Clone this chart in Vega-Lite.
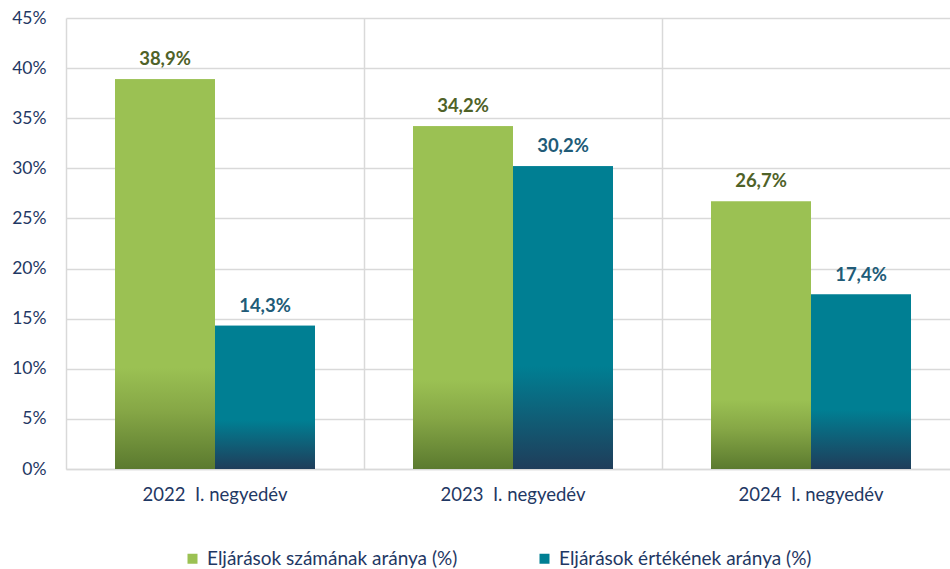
{
  "$schema": "https://vega.github.io/schema/vega-lite/v6.json",
  "width": 884,
  "height": 451,
  "autosize": {"type": "none"},
  "padding": {"left": 66, "top": 18, "right": 0, "bottom": 100},
  "background": "white",
  "config": {
    "locale": {"number": {"decimal": ",", "thousands": " ", "grouping": [3], "currency": ["", " Ft"]}},
    "font": "Lato",
    "view": {"stroke": null}
  },
  "data": {
    "values": [
      {"q": "2022 \u00a0I. negyedév", "s": "Eljárások számának aránya (%)", "v": 0.389},
      {"q": "2022 \u00a0I. negyedév", "s": "Eljárások értékének aránya (%)", "v": 0.143},
      {"q": "2023 \u00a0I. negyedév", "s": "Eljárások számának aránya (%)", "v": 0.342},
      {"q": "2023 \u00a0I. negyedév", "s": "Eljárások értékének aránya (%)", "v": 0.302},
      {"q": "2024 \u00a0I. negyedév", "s": "Eljárások számának aránya (%)", "v": 0.267},
      {"q": "2024 \u00a0I. negyedév", "s": "Eljárások értékének aránya (%)", "v": 0.174}
    ]
  },
  "encoding": {
    "x": {
      "field": "q", "type": "nominal", "sort": null, "title": null,
      "scale": {"range": [0, 894], "paddingInner": 0, "paddingOuter": 0},
      "axis": {
        "bandPosition": 0, "labelAngle": 0,
        "labelFontSize": 18.5, "labelColor": "#1F3864", "labelPadding": 16,
        "ticks": false, "grid": true, "gridColor": "#D9D9D9", "gridWidth": 1.5,
        "domainColor": "#D9D9D9", "domainWidth": 1.5, "labelLimit": 300
      }
    },
    "xOffset": {
      "field": "s", "type": "nominal", "sort": null,
      "scale": {"domain": ["Eljárások számának aránya (%)", "Eljárások értékének aránya (%)"], "paddingInner": 0, "paddingOuter": 0.49}
    },
    "y": {
      "field": "v", "type": "quantitative", "title": null,
      "scale": {"domain": [0, 0.45], "nice": false},
      "axis": {
        "values": [0, 0.05, 0.1, 0.15, 0.2, 0.25, 0.3, 0.35, 0.4, 0.45],
        "format": ".0%", "labelFontSize": 17.5, "labelColor": "#1F3864",
        "labelPadding": 20, "ticks": false, "domain": false,
        "gridColor": "#D9D9D9", "gridWidth": 1.5
      }
    }
  },
  "layer": [
    {
      "mark": {"type": "bar"},
      "encoding": {
        "color": {
          "field": "s", "type": "nominal", "sort": null,
          "scale": {"domain": ["Eljárások számának aránya (%)", "Eljárások értékének aránya (%)"], "range": ["#9BC153", "#007F93"]},
          "legend": {
            "title": null, "orient": "none", "direction": "horizontal",
            "legendX": 117, "legendY": 531,
            "symbolType": "square", "symbolSize": 100, "symbolStrokeWidth": 0,
            "labelFontSize": 19, "labelColor": "#1F3864", "labelLimit": 400,
            "columnPadding": 77, "labelOffset": 5
          }
        }
      }
    },
    {
      "transform": [{"filter": "datum.s === 'Eljárások számának aránya (%)'"}],
      "mark": {
        "type": "bar",
        "fill": {"gradient": "linear", "x1": 0, "y1": 0, "x2": 0, "y2": 1,
          "stops": [{"offset": 0, "color": "#9BC153"}, {"offset": 0.74, "color": "#9BC153"}, {"offset": 0.85, "color": "#86A746"}, {"offset": 1, "color": "#5B7A2F"}]}
      }
    },
    {
      "transform": [{"filter": "datum.s === 'Eljárások értékének aránya (%)'"}],
      "mark": {
        "type": "bar",
        "fill": {"gradient": "linear", "x1": 0, "y1": 0, "x2": 0, "y2": 1,
          "stops": [{"offset": 0, "color": "#007F93"}, {"offset": 0.66, "color": "#007F93"}, {"offset": 1, "color": "#1F3D5A"}]}
      }
    },
    {
      "mark": {"type": "text", "fontSize": 18.5, "fontWeight": "bold", "baseline": "alphabetic", "dy": -14},
      "encoding": {
        "text": {"field": "v", "type": "quantitative", "format": ".1%"},
        "color": {"condition": {"test": "datum.s === 'Eljárások számának aránya (%)'", "value": "#4F6228"}, "value": "#215B77"}
      }
    }
  ]
}
